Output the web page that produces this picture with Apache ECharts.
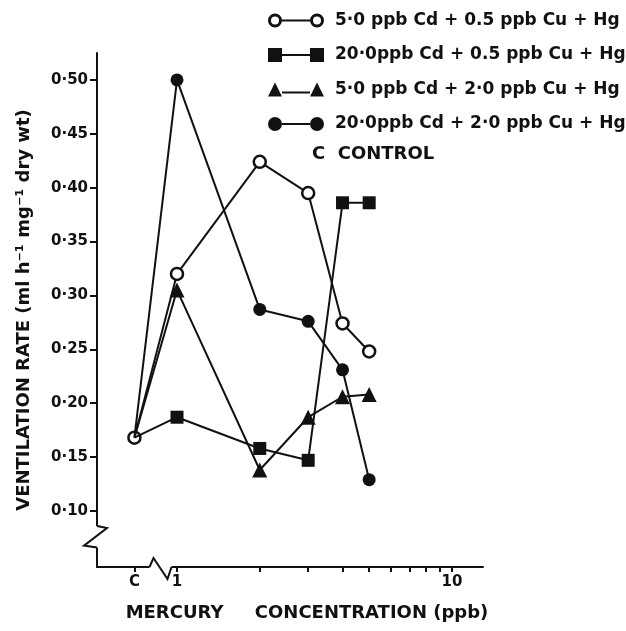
<!DOCTYPE html>
<html>
<head>
<meta charset="utf-8">
<script src="https://cdn.jsdelivr.net/npm/echarts@6/dist/echarts.min.js"></script>
<style>
html,body{margin:0;padding:0;background:#fff;}
#chart{width:626px;height:631px;}
</style>
</head>
<body>
<div id="chart"></div>
<script>
// ---- data ----
const controlLabel = 'C';
const controlPosition = 0.7;          // where the control is placed on the log concentration axis
const controlValue = 0.168;
const concentrations = [1, 2, 3, 4, 5];   // ppb Hg
const seriesNames = [
  '5·0 ppb Cd + 0.5 ppb Cu + Hg',
  '20·0ppb Cd + 0.5 ppb Cu + Hg',
  '5·0 ppb Cd + 2·0 ppb Cu + Hg',
  '20·0ppb Cd + 2·0 ppb Cu + Hg'
];
const cd5cu05 = [0.320, 0.424, 0.395, 0.274, 0.248];
const cd20cu05 = [0.187, 0.158, 0.147, 0.386, 0.386];
const cd5cu2 = [0.305, 0.138, 0.187, 0.206, 0.208];
const cd20cu2 = [0.500, 0.287, 0.276, 0.231, 0.129];
const yTicks = [0.10, 0.15, 0.20, 0.25, 0.30, 0.35, 0.40, 0.45, 0.50];
const xMinorTicks = [2, 3, 4, 5, 6, 7, 8, 9];
const xLabelTicks = [controlPosition, 1, 10];
const yTitle = 'VENTILATION RATE (ml h⁻¹ mg⁻¹ dry wt)';
const xTitle = 'MERCURY     CONCENTRATION (ppb)';
const controlNote = 'C  CONTROL';

// ---- build ----
const lg = v => Math.log10(v);
const font = 'DejaVu Sans';
const ink = '#111';

function buildData(vals, firstIsOwnMarker) {
  const d = [{ value: [lg(controlPosition), controlValue], symbol: firstIsOwnMarker ? 'circle' : 'none' }];
  concentrations.forEach((c, i) => d.push([lg(c), vals[i]]));
  return d;
}

const symbols = ['circle', 'rect', 'triangle', 'circle'];
const fills = ['#fff', ink, ink, ink];
const sizes = [12, 13, 15, 13];
const allVals = [cd5cu05, cd20cu05, cd5cu2, cd20cu2];

// legend icons: two markers joined by a line
const iconPaths = [
  'path://M0,7A7,7 0 1 1 14,7A7,7 0 1 1 0,7ZM3,7A4,4 0 1 0 11,7A4,4 0 1 0 3,7ZM14,6L42,6L42,8L14,8ZM42,7A7,7 0 1 1 56,7A7,7 0 1 1 42,7ZM45,7A4,4 0 1 0 53,7A4,4 0 1 0 45,7Z',
  'path://M0,0L14,0L14,14L0,14ZM14,6L42,6L42,8L14,8ZM42,0L56,0L56,14L42,14Z',
  'path://M7,0L14,14L0,14ZM14,9L42,9L42,11L14,11ZM49,0L56,14L42,14Z',
  'path://M0,7A7,7 0 1 1 14,7A7,7 0 1 1 0,7ZM14,6L42,6L42,8L14,8ZM42,7A7,7 0 1 1 56,7A7,7 0 1 1 42,7Z'
];

const series = allVals.map((vals, k) => ({
  name: seriesNames[k],
  type: 'line',
  data: buildData(vals, k === 0),
  symbol: symbols[k],
  symbolSize: sizes[k],
  showAllSymbol: true,
  lineStyle: { color: ink, width: 2 },
  itemStyle: { color: fills[k], borderColor: ink, borderWidth: k === 0 ? 2.5 : 0 },
  emphasis: { disabled: true },
  animation: false,
  z: 3 + k
}));
// control marker is always an open circle
series.forEach(s => { s.data[0].itemStyle = { color: '#fff', borderColor: ink, borderWidth: 2.5 }; s.data[0].symbolSize = 12; });

const chart = echarts.init(document.getElementById('chart'), null, { renderer: 'canvas' });
const option = {
  backgroundColor: '#fff',
  animation: false,
  grid: { left: 97, right: 143, top: 53, bottom: 64, containLabel: false },
  legend: {
    orient: 'vertical',
    left: 263, top: 7,
    itemWidth: 56, itemHeight: 14,
    itemGap: 17.5,
    selectedMode: false,
    data: seriesNames.map((n, k) => ({ name: n, icon: iconPaths[k], itemStyle: { color: ink, borderWidth: 0 } })),
    textStyle: { fontFamily: font, fontWeight: 'bold', fontSize: 17, color: ink, padding: [0, 0, 0, 6] }
  },
  xAxis: {
    type: 'value',
    min: -0.291, max: 1.113,
    splitLine: { show: false },
    axisLine: { onZero: false, lineStyle: { color: ink, width: 2 } },
    axisTick: { show: true, length: 5, lineStyle: { color: ink, width: 2 },
      customValues: [lg(controlPosition), lg(1)].concat(xMinorTicks.map(lg), [lg(10)]) },
    axisLabel: {
      customValues: xLabelTicks.map(lg),
      formatter: v => Math.abs(v - lg(controlPosition)) < 1e-6 ? controlLabel : String(Math.round(Math.pow(10, v))),
      fontFamily: font, fontWeight: 'bold', fontSize: 15, color: ink, margin: 8
    },
    name: xTitle,
    nameLocation: 'middle',
    nameGap: 37,
    nameTextStyle: { fontFamily: font, fontWeight: 'bold', fontSize: 18, color: ink, padding: [0, 0, 0, 34] }
  },
  yAxis: {
    type: 'value',
    min: 0.048, max: 0.525,
    splitLine: { show: false },
    axisLine: { show: true, onZero: false, lineStyle: { color: ink, width: 2 } },
    axisTick: { show: true, length: 7, lineStyle: { color: ink, width: 2 }, customValues: yTicks },
    axisLabel: {
      customValues: yTicks,
      formatter: v => v.toFixed(2).replace('.', '·'),
      fontFamily: font, fontWeight: 'bold', fontSize: 15, color: ink, margin: 9
    },
    name: yTitle,
    nameLocation: 'middle',
    nameRotate: 90,
    nameGap: 64,
    nameTextStyle: { fontFamily: font, fontWeight: 'bold', fontSize: 18, color: ink, padding: [0, 0, 0, 0] }
  },
  series: series
};
chart.setOption(option);

// ---- axis-break decorations & control note ----
const P = (x, y) => chart.convertToPixel({ gridIndex: 0 }, [x, y]);
const origin = P(-0.291, 0.048);
const yb1 = P(-0.291, 0.086)[1], yb2 = P(-0.291, 0.066)[1];
const xb1 = P(-0.10, 0.048)[0], xb2 = P(-0.02, 0.048)[0];
const ax = origin[0], ay = origin[1];
chart.setOption({
  graphic: [
    { type: 'rect', shape: { x: ax - 3, y: yb1, width: 6, height: yb2 - yb1 }, style: { fill: '#fff' }, z: 50 },
    { type: 'polyline', shape: { points: [[ax, yb1], [ax + 10, yb1 + 2], [ax - 13, yb2 - 2], [ax, yb2]] },
      style: { stroke: ink, lineWidth: 2, fill: null }, z: 51 },
    { type: 'rect', shape: { x: xb1, y: ay - 3, width: xb2 - xb1, height: 6 }, style: { fill: '#fff' }, z: 50 },
    { type: 'polyline', shape: { points: [[xb1, ay], [xb1 + 4, ay - 9], [xb2 - 4, ay + 12], [xb2, ay]] },
      style: { stroke: ink, lineWidth: 2, fill: null }, z: 51 },
    { type: 'text', left: 312, top: 145, style: { text: controlNote, fontFamily: font, fontWeight: 'bold', fontSize: 18, fill: ink } }
  ]
});
</script>
</body>
</html>
